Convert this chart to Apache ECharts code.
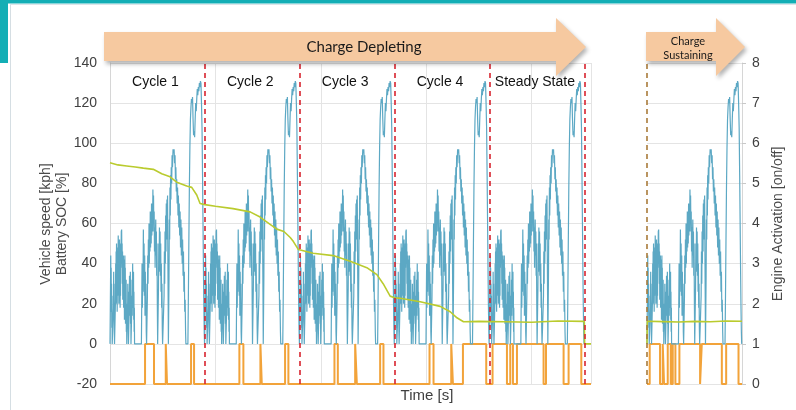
<!DOCTYPE html>
<html>
<head>
<meta charset="utf-8">
<script src="https://cdn.jsdelivr.net/npm/echarts@6/dist/echarts.min.js"></script>
<style>
  html, body { margin: 0; padding: 0; background: #fff; }
  #chart { width: 796px; height: 410px; }
</style>
</head>
<body>
<div id="chart"></div>
<script>
// one drive cycle: [time s, speed kph]
var cycleSpeed = [
  // low
  [0,0],[6,0],[10,30],[14,44],[18,22],[22,38],[26,16],[30,30],[34,8],[38,24],[42,0],[60,0],
  [66,18],[70,36],[74,16],[78,30],[82,6],[86,0],[100,0],
  [104,22],[108,40],[112,20],[116,46],[120,28],[124,50],[128,24],[132,42],[136,16],[140,34],[144,24],
  [148,48],[152,32],[156,54],[160,38],[164,46],[168,20],[172,40],[176,26],[180,52],[184,34],[188,48],
  [192,18],[196,36],[200,24],[204,50],[208,38],[214,56],[221,57],[226,40],[230,50],[234,30],[238,46],
  [242,22],[246,40],[250,28],[254,44],[258,18],[262,36],[266,22],[270,42],[274,12],[278,30],[282,44],
  [286,24],[290,38],[294,10],[298,28],[302,16],[306,32],[310,6],[314,20],[318,0],[330,0],
  [334,16],[338,30],[342,12],[346,26],[350,0],[362,0],[366,20],[370,34],[374,14],[378,30],[382,20],
  [386,36],[390,10],[394,24],[398,0],[410,0],[414,18],[418,32],[422,14],[426,28],[430,40],[434,18],
  [438,34],[442,22],[446,36],[450,12],[454,26],[458,6],[462,18],[466,0],[596,0],
  // medium
  [602,20],[608,40],[614,18],[620,36],[626,26],[633,57],[640,34],[646,50],[652,24],[658,44],[664,14],
  [670,36],[676,20],[682,30],[688,6],[694,0],[704,0],[710,24],[716,44],[722,30],[728,52],[734,38],
  [740,60],[746,40],[752,58],[758,46],[764,66],[770,48],[776,62],[782,50],[788,70],[794,54],[800,68],
  [806,56],[814,77],[820,64],[826,74],[832,56],[838,66],[844,46],[850,58],[856,38],[862,54],[868,62],
  [874,44],[880,56],[886,34],[892,50],[898,20],[904,0],[914,0],[920,28],[926,50],[932,36],[938,58],
  [944,42],[950,56],[956,34],[962,50],[968,26],[974,40],[980,18],[986,30],[992,8],[998,0],[1020,0],
  // high
  [1026,24],[1032,46],[1038,30],[1044,56],[1050,40],[1056,64],[1062,46],[1068,70],[1074,52],[1080,72],
  [1086,56],[1092,74],[1098,44],[1104,20],[1108,0],[1114,0],[1120,34],[1126,62],[1132,52],[1138,78],
  [1144,64],[1150,84],[1156,72],[1162,88],[1170,80],[1178,94],[1186,88],[1196,97],[1206,95],[1216,97],
  [1226,90],[1234,94],[1242,82],[1250,88],[1258,76],[1266,82],[1274,70],[1282,78],[1290,64],[1298,74],
  [1306,58],[1314,70],[1322,54],[1330,66],[1338,48],[1346,62],[1354,44],[1362,58],[1370,40],[1378,52],
  [1386,34],[1394,46],[1402,26],[1410,36],[1418,16],[1426,22],[1434,6],[1440,0],[1478,0],
  // extra high
  [1486,20],[1496,50],[1506,78],[1516,98],[1526,112],[1536,118],[1546,122],[1556,120],[1566,123],
  [1576,112],[1586,104],[1596,106],[1606,103],[1616,112],[1626,120],[1636,116],[1646,122],[1656,127],
  [1666,124],[1676,128],[1686,126],[1696,130],[1706,128],[1716,131],[1726,130],[1736,120],[1746,108],
  [1756,84],[1764,62],[1772,40],[1780,20],[1788,6],[1794,0],[1800,0]
];
var cycleLength = 1800;
var cycleStarts = [0, 1800, 3600, 5400, 7200];
var cycleNames = ['Cycle 1', 'Cycle 2', 'Cycle 3', 'Cycle 4', 'Steady State'];
var cycleBounds = [1800, 3600, 5400, 7200, 9000];

// battery state of charge [time s, %]
var socDepleting = [
  [0,90.3],[150,89.2],[317,88.7],[480,88.2],[632,87.6],[822,87],[982,84.8],[1139,83.3],[1266,80.6],
  [1456,78.7],[1551,78],[1646,74.2],[1709,70],[1800,69.4],
  [2000,68.6],[2335,67.4],[2658,65.8],[2848,63.2],[3038,59.6],[3165,57.2],[3300,56],[3420,53],
  [3480,51],[3575,47],[3600,46.6],
  [3854,45.2],[4234,44],[4557,41.2],[4874,38],[5064,34.5],[5183,30],[5316,23.8],[5400,23],
  [5506,22.7],[5886,21],[6266,18.7],[6456,16],[6583,13],[6708,11],[7000,11.2],[7500,11],
  [8000,10.8],[8500,11.4],[9000,11.2],[9006,0],[9127,0]
];
var socSustaining = [[0,0],[6,11.3],[300,11.1],[600,10.9],[900,11.2],[1200,11],[1500,11.4],[1800,11.3]];

// engine on intervals [start s, end s]
var engineOnDepleting = [
  [665,835],[1058,1082],[1538,1595],[2455,2531],[2854,2880],[3322,3385],
  [4259,4323],[4652,4684],[5126,5189],[6063,6139],[6475,6507],[6697,7139],
  [7259,7532],[7595,7646],[7722,8227],[8273,8607],[8702,8943]
];
var engineOnSustaining = [[51,247],[298,323],[393,450],[488,538],[614,1006],[1038,1418],[1500,1734]];

var depletingEnd = 9127;

function repeatCycle(starts) {
  var out = [];
  starts.forEach(function (s) {
    cycleSpeed.forEach(function (p) { out.push([s + p[0], p[1]]); });
  });
  return out;
}
function engineSteps(intervals, end) {
  var d = [[0, 0]];
  intervals.forEach(function (iv) {
    d.push([iv[0], 0], [iv[0], 1], [iv[1], 1], [iv[1], 0]);
  });
  d.push([end, 0]);
  return d;
}

var FONT = 'Liberation Sans, Arial, sans-serif';
var gridColor = '#E4E4E4';
var speedColor = '#5CA8C4';
var socColor = '#BACB2E';
var engineColor = '#F2A33A';

var chart = echarts.init(document.getElementById('chart'));

var option = {
  backgroundColor: '#fff',
  animation: false,
  grid: [
    { left: 110, top: 63, right: 205, bottom: 26 },
    { left: 647, top: 63, right: 54, bottom: 26 }
  ],
  xAxis: [
    { gridIndex: 0, type: 'value', min: 0, max: depletingEnd, interval: 2000,
      axisLabel: { show: false }, axisTick: { show: false }, axisLine: { show: false },
      splitLine: { show: true, lineStyle: { color: gridColor, width: 1 } } },
    { gridIndex: 1, type: 'value', min: 0, max: cycleLength, interval: 2000,
      axisLabel: { show: false }, axisTick: { show: false }, axisLine: { show: false },
      splitLine: { show: false } }
  ],
  yAxis: [
    { gridIndex: 0, type: 'value', position: 'left', min: -20, max: 140, interval: 20,
      axisLine: { show: true, lineStyle: { color: '#D6D6D6' } }, axisTick: { show: false },
      axisLabel: { color: '#404040', fontSize: 14, fontFamily: FONT, margin: 13 },
      splitLine: { show: true, lineStyle: { color: gridColor, width: 1 } } },
    { gridIndex: 0, type: 'value', position: 'right', min: 0, max: 8, interval: 1, show: false },
    { gridIndex: 1, type: 'value', position: 'left', min: -20, max: 140, interval: 20,
      axisLine: { show: false }, axisTick: { show: false }, axisLabel: { show: false },
      splitLine: { show: true, lineStyle: { color: gridColor, width: 1 } } },
    { gridIndex: 1, type: 'value', position: 'right', min: 0, max: 8, interval: 1,
      axisLine: { show: true, lineStyle: { color: '#D6D6D6' } },
      axisTick: { show: true, length: 4, lineStyle: { color: '#C8C8C8' } },
      axisLabel: { color: '#404040', fontSize: 14, fontFamily: FONT, margin: 10 },
      splitLine: { show: false } }
  ],
  series: [
    { name: 'Speed', type: 'line', xAxisIndex: 0, yAxisIndex: 0, data: repeatCycle(cycleStarts),
      showSymbol: false, symbol: 'none', lineStyle: { color: speedColor, width: 1.2 }, z: 3 },
    { name: 'SOC', type: 'line', xAxisIndex: 0, yAxisIndex: 0, data: socDepleting,
      showSymbol: false, symbol: 'none', lineStyle: { color: socColor, width: 1.6 }, z: 4 },
    { name: 'Engine', type: 'line', xAxisIndex: 0, yAxisIndex: 1, data: engineSteps(engineOnDepleting, depletingEnd),
      showSymbol: false, symbol: 'none', clip: false, lineStyle: { color: engineColor, width: 2 }, z: 2 },
    { name: 'Speed CS', type: 'line', xAxisIndex: 1, yAxisIndex: 2, data: repeatCycle([0]),
      showSymbol: false, symbol: 'none', lineStyle: { color: speedColor, width: 1.2 }, z: 3 },
    { name: 'SOC CS', type: 'line', xAxisIndex: 1, yAxisIndex: 2, data: socSustaining,
      showSymbol: false, symbol: 'none', lineStyle: { color: socColor, width: 1.6 }, z: 4 },
    { name: 'Engine CS', type: 'line', xAxisIndex: 1, yAxisIndex: 3, data: engineSteps(engineOnSustaining, cycleLength),
      showSymbol: false, symbol: 'none', clip: false, lineStyle: { color: engineColor, width: 2 }, z: 2 },
    { name: 'Cycles', type: 'line', xAxisIndex: 0, yAxisIndex: 0, data: [], z: 10,
      markLine: { silent: true, symbol: ['none', 'none'], label: { show: false },
        lineStyle: { color: '#D8232F', type: [5, 4], width: 1.6 },
        data: cycleBounds.map(function (b) { return { xAxis: b }; }) },
      markArea: { silent: true, itemStyle: { color: 'rgba(0,0,0,0)' },
        label: { show: true, position: 'insideTop', distance: 12, color: '#111',
          fontSize: 14, fontFamily: FONT, offset: [-2, 0] },
        data: cycleStarts.map(function (s, i) {
          return [{ xAxis: s, name: cycleNames[i] }, { xAxis: s + cycleLength }];
        }) } },
    { name: 'CS start', type: 'line', xAxisIndex: 1, yAxisIndex: 2, data: [], z: 10,
      markLine: { silent: true, symbol: ['none', 'none'], label: { show: false },
        lineStyle: { color: '#A97B3A', type: [5, 4], width: 1.6 },
        data: [{ xAxis: 0 }] } }
  ],
  graphic: [
    { type: 'rect', shape: { x: 0, y: 0, width: 796, height: 3.5 }, style: { fill: '#13AEB5' } },
    { type: 'rect', shape: { x: 0, y: 0, width: 8, height: 63 }, style: { fill: '#13AEB5' } },
    { type: 'line', shape: { x1: 10.5, y1: 4, x2: 10.5, y2: 410 }, style: { stroke: '#D5DEE3', lineWidth: 1 } },
    { type: 'line', shape: { x1: 10, y1: 4.5, x2: 796, y2: 4.5 }, style: { stroke: '#DCE4E8', lineWidth: 1 } },
    { type: 'polygon', z: 20,
      shape: { points: [[104,32],[556,32],[556,18],[586,47],[556,76],[556,61],[104,61]] },
      style: { fill: '#F6C9A0', shadowBlur: 4, shadowOffsetX: 2, shadowOffsetY: 3, shadowColor: 'rgba(0,0,0,0.3)' } },
    { type: 'text', z: 21, x: 364, y: 47,
      style: { text: 'Charge Depleting', fontSize: 15, fontFamily: 'Lato, sans-serif', fill: '#1A1A1A',
        align: 'center', verticalAlign: 'middle' } },
    { type: 'polygon', z: 20,
      shape: { points: [[646,32],[716,32],[716,18],[745,47],[716,76],[716,61],[646,61]] },
      style: { fill: '#F6C9A0', shadowBlur: 4, shadowOffsetX: 2, shadowOffsetY: 3, shadowColor: 'rgba(0,0,0,0.3)' } },
    { type: 'text', z: 21, x: 688, y: 48,
      style: { text: 'Charge\nSustaining', fontSize: 11, lineHeight: 14, fontFamily: 'Lato, sans-serif', fill: '#1A1A1A',
        align: 'center', verticalAlign: 'middle' } },
    { type: 'text', x: 54, y: 224, rotation: Math.PI / 2,
      style: { text: 'Vehicle speed [kph]\nBattery SOC [%]', fontSize: 14, lineHeight: 16.5, fontFamily: FONT,
        fill: '#4A4A4A', align: 'center', verticalAlign: 'middle' } },
    { type: 'text', x: 778, y: 224, rotation: Math.PI / 2,
      style: { text: 'Engine Activation [on/off]', fontSize: 14, fontFamily: FONT,
        fill: '#4A4A4A', align: 'center', verticalAlign: 'middle' } },
    { type: 'text', x: 427, y: 396,
      style: { text: 'Time [s]', fontSize: 15, fontFamily: FONT, fill: '#404040',
        align: 'center', verticalAlign: 'middle' } }
  ]
};

chart.setOption(option);
</script>
</body>
</html>
